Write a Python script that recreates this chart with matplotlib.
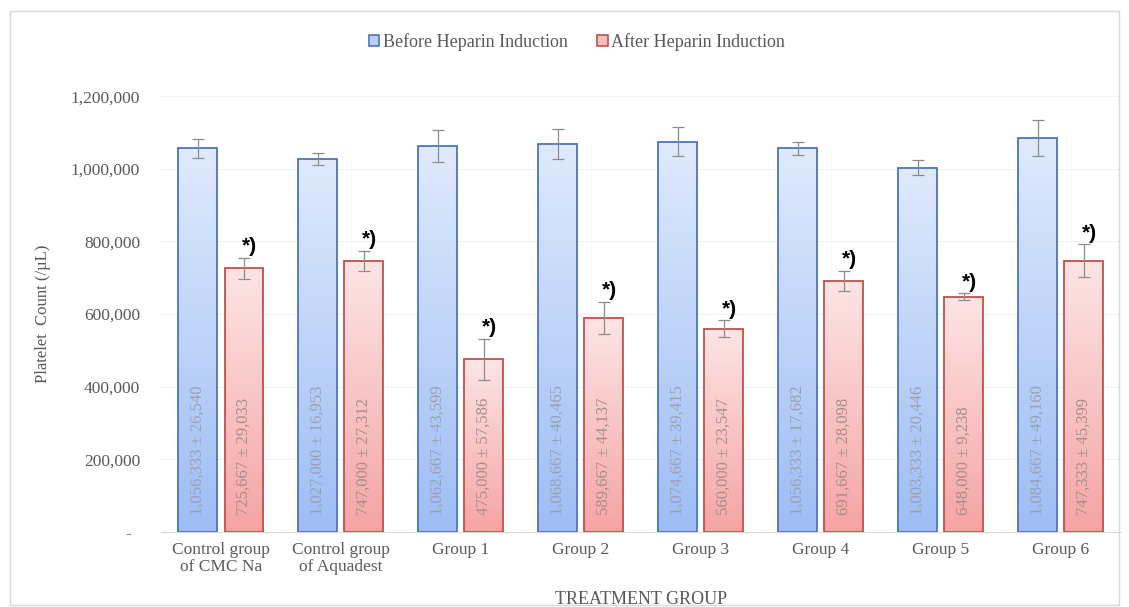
import numpy as np
import matplotlib
matplotlib.use('Agg')
import matplotlib.pyplot as plt
from matplotlib.colors import LinearSegmentedColormap
from matplotlib.patches import Patch, Rectangle
from matplotlib.ticker import FuncFormatter

groups = ['Control group\nof CMC Na', 'Control group\nof Aquadest', 'Group 1', 'Group 2',
          'Group 3', 'Group 4', 'Group 5', 'Group 6']
before = [1056333, 1027000, 1062667, 1068667, 1074667, 1056333, 1003333, 1084667]
before_sd = [26540, 16953, 43599, 40465, 39415, 17682, 20446, 49160]
after = [725667, 747000, 475000, 589667, 560000, 691667, 648000, 747333]
after_sd = [29033, 27312, 57586, 44137, 23547, 28098, 9238, 45399]
yticks = [0, 200000, 400000, 600000, 800000, 1000000, 1200000]

serif = 'Liberation Serif'
grey = '#595959'

fig = plt.figure(figsize=(11.29, 6.07), dpi=100)
ax = fig.add_axes([0.1426, 0.1236, 0.850, 0.718])

# chart border
fig.patches.append(Rectangle((0.009, 0.004), 0.982, 0.978, transform=fig.transFigure,
                             fill=False, edgecolor='#d9d9d9', lw=1))

x = np.arange(len(groups))
w = 0.325
off = 0.192

blue_cm = LinearSegmentedColormap.from_list('b', ['#9dbdf4', '#dfeafc'])
red_cm = LinearSegmentedColormap.from_list('r', ['#f5a4a4', '#fde5e5'])
grad = np.linspace(0, 1, 256).reshape(-1, 1)


def draw(xpos, vals, sds, cmap, edge):
    bars = ax.bar(xpos, vals, w, facecolor='none', edgecolor=edge, lw=1.3, zorder=3)
    for b in bars:
        x0, h = b.get_x(), b.get_height()
        im = ax.imshow(grad, extent=[x0, x0 + w, 0, h], origin='lower', aspect='auto',
                       cmap=cmap, zorder=2)
        im.set_clip_path(b)
    ax.errorbar(xpos, vals, yerr=sds, fmt='none', ecolor='#8c8c8c', elinewidth=0.9,
                capsize=4, capthick=0.9, zorder=4)
    return bars


draw(x - off, before, before_sd, blue_cm, '#4f73b8')
draw(x + off, after, after_sd, red_cm, '#c0504d')

for i in range(len(groups)):
    ax.annotate(f'{before[i]:,} ± {before_sd[i]:,}', (x[i] - off, 0), xytext=(0, 12),
                textcoords='offset points', rotation=90, ha='center', va='bottom',
                fontsize=12, color='#97a0b2', family=serif, zorder=5)
    ax.annotate(f'{after[i]:,} ± {after_sd[i]:,}', (x[i] + off, 0), xytext=(0, 12),
                textcoords='offset points', rotation=90, ha='center', va='bottom',
                fontsize=12, color='#a88c8c', family=serif, zorder=5)
    ax.annotate('*)', (x[i] + off, after[i] + after_sd[i]), xytext=(4, 1),
                textcoords='offset points', ha='center', va='bottom',
                fontsize=15, fontweight='bold', color='black', family='Liberation Sans', zorder=5)

ax.set_xlim(-0.5, len(groups) - 0.5)
ax.set_ylim(0, 1200000)
ax.set_yticks(yticks)
ax.yaxis.set_major_formatter(FuncFormatter(lambda v, p: '-  ' if v == 0 else f'{int(v):,}'))
ax.set_xticks(x)
ax.set_xticklabels(groups, family=serif, fontsize=12.5, color=grey, linespacing=1.15)
for lab in ax.get_yticklabels():
    lab.set_family(serif)
    lab.set_fontsize(12.5)
    lab.set_color(grey)
ax.tick_params(length=0)
ax.tick_params(axis='y', pad=15)
ax.tick_params(axis='x', pad=7)
ax.grid(axis='y', color='#f2f2f2', lw=0.8, zorder=0)
for s in ['top', 'right', 'left']:
    ax.spines[s].set_visible(False)
ax.spines['bottom'].set_color('#d9d9d9')

ax.set_ylabel('Platelet  Count (/µL)', family=serif, fontsize=12, color=grey, labelpad=14)
ax.set_xlabel('TREATMENT GROUP', family=serif, fontsize=13, color=grey, labelpad=11)

handles = [Patch(facecolor='#b7cff7', edgecolor='#4f73b8', lw=1.2),
           Patch(facecolor='#f8bcbc', edgecolor='#c0504d', lw=1.2)]
fig.legend(handles, ['Before Heparin Induction', 'After Heparin Induction'],
           loc='center', bbox_to_anchor=(0.511, 0.931), ncol=2, frameon=False,
           prop={'family': serif, 'size': 13}, labelcolor=grey, handlelength=0.6,
           handleheight=0.6, handletextpad=0.2, columnspacing=1.6)

fig.savefig('out.png', dpi=100)
